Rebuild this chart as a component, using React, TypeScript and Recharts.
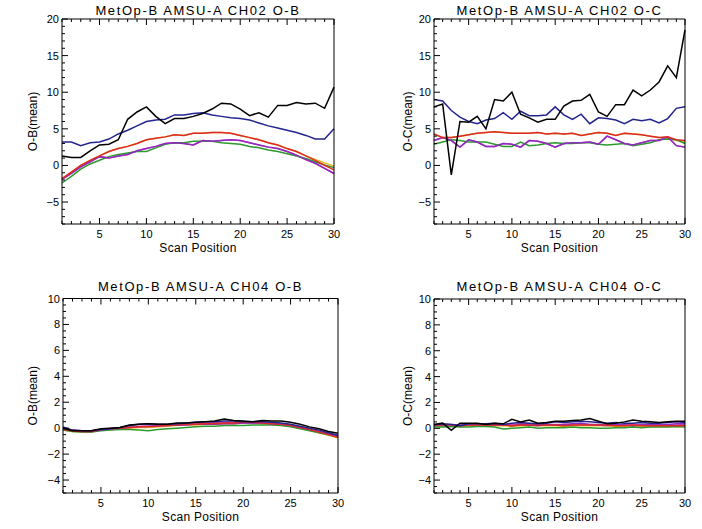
import { Label, Line, LineChart, XAxis, YAxis } from "recharts";

const SCAN_POSITIONS = [
  1, 2, 3, 4, 5, 6, 7, 8, 9, 10, 11, 12, 13, 14, 15, 16, 17, 18, 19, 20, 21,
  22, 23, 24, 25, 26, 27, 28, 29, 30,
];

// CH02 O-B
const CH02_OB_BLACK = [1.3, 1.1, 1.1, 2.0, 2.8, 2.9, 3.5, 6.3, 7.3, 8.0, 6.7, 5.7, 6.4, 6.4, 6.7, 7.1, 7.7, 8.5, 8.4, 7.7, 6.8, 7.2, 6.6, 8.2, 8.2, 8.6, 8.4, 8.5, 7.8, 10.7];
const CH02_OB_BLUE = [3.2, 3.2, 2.7, 3.1, 3.2, 3.6, 4.3, 4.8, 5.4, 6.0, 6.2, 6.3, 6.9, 6.9, 7.1, 7.2, 6.9, 6.7, 6.5, 6.4, 6.2, 5.8, 5.4, 5.1, 4.8, 4.5, 4.1, 3.6, 3.6, 5.0];
const CH02_OB_RED = [-1.8, -0.9, 0.0, 0.7, 1.3, 1.9, 2.3, 2.6, 3.0, 3.5, 3.7, 3.9, 4.2, 4.1, 4.4, 4.4, 4.5, 4.5, 4.4, 4.1, 3.8, 3.5, 3.1, 2.8, 2.3, 1.9, 1.3, 0.7, 0.0, -0.6];
const CH02_OB_GREEN = [-2.4, -1.5, -0.5, 0.2, 0.7, 1.2, 1.5, 1.7, 1.9, 1.9, 2.4, 2.9, 3.1, 3.1, 3.3, 3.3, 3.3, 3.1, 3.0, 2.9, 2.6, 2.4, 2.1, 1.9, 1.6, 1.3, 0.95, 0.5, 0.05, -0.3];
const CH02_OB_PURPLE = [-1.9, -1.1, -0.2, 0.5, 1.2, 1.0, 1.3, 1.5, 2.0, 2.3, 2.6, 3.0, 3.1, 3.0, 2.8, 3.4, 3.3, 3.4, 3.5, 3.4, 3.1, 2.8, 2.5, 2.3, 1.9, 1.4, 0.8, 0.3, -0.4, -1.1];
const CH02_OB_MAGENTA = [-1.9, -1.1, -0.2, 0.5, 1.2, 1.0, 1.3, 1.5, 2.0, 2.3, 2.6, 3.0, 3.1, 3.0, 2.8, 3.4, 3.3, 3.4, 3.5, 3.4, 3.1, 2.8, 2.5, 2.3, 1.9, 1.4, 0.8, 0.3, -0.4, -1.1];
const CH02_OB_YELLOW = [-1.8, -0.9, 0.0, 0.7, 1.3, 1.9, 2.3, 2.6, 3.0, 3.5, 3.7, 3.9, 4.2, 4.1, 4.4, 4.4, 4.5, 4.5, 4.4, 4.1, 3.8, 3.5, 3.1, 2.8, 2.3, 1.9, 1.3, 0.8, 0.35, -0.1];

// CH02 O-C
const CH02_OC_BLACK = [8.0, 8.4, -1.3, 6.0, 5.9, 6.7, 5.0, 9.0, 8.8, 10.0, 7.0, 6.5, 5.9, 6.3, 6.3, 8.1, 8.8, 8.9, 9.7, 7.3, 6.7, 8.3, 8.3, 10.3, 9.5, 10.3, 11.4, 13.6, 12.0, 18.5];
const CH02_OC_BLUE = [9.0, 8.8, 7.5, 6.6, 6.0, 5.7, 6.2, 6.4, 7.2, 6.3, 7.4, 6.8, 6.8, 6.9, 8.0, 6.9, 6.3, 7.0, 5.7, 6.5, 6.4, 6.2, 5.7, 6.3, 6.1, 6.3, 5.8, 6.4, 7.8, 8.0];
const CH02_OC_RED = [4.3, 3.8, 3.8, 4.0, 4.2, 4.4, 4.5, 4.6, 4.5, 4.4, 4.4, 4.4, 4.5, 4.3, 4.4, 4.3, 4.4, 4.1, 4.3, 4.5, 4.4, 4.1, 4.4, 4.3, 4.2, 4.0, 3.8, 3.9, 3.5, 3.4];
const CH02_OC_GREEN = [2.9, 3.2, 3.5, 3.4, 3.2, 3.2, 3.2, 2.9, 2.6, 2.6, 3.2, 2.7, 2.8, 3.0, 3.1, 3.0, 3.0, 3.1, 3.1, 2.9, 2.8, 2.9, 3.0, 2.7, 2.9, 3.1, 3.5, 3.6, 3.5, 3.0];
const CH02_OC_PURPLE = [3.4, 3.8, 3.4, 2.5, 3.5, 3.2, 2.6, 2.6, 3.0, 2.9, 2.5, 3.4, 3.3, 3.0, 2.5, 3.0, 3.1, 3.1, 3.2, 2.9, 4.0, 3.5, 3.0, 2.8, 3.1, 3.4, 3.4, 3.9, 2.7, 2.5];
const CH02_OC_MAGENTA = [3.4, 3.8, 3.4, 2.5, 3.5, 3.2, 2.6, 2.6, 3.0, 2.9, 2.5, 3.4, 3.3, 3.0, 2.5, 3.0, 3.1, 3.1, 3.2, 2.9, 4.0, 3.5, 3.0, 2.8, 3.1, 3.4, 3.4, 3.9, 2.7, 2.5];
const CH02_OC_YELLOW = [4.3, 3.8, 3.8, 4.0, 4.2, 4.4, 4.5, 4.6, 4.5, 4.4, 4.4, 4.4, 4.5, 4.3, 4.4, 4.3, 4.4, 4.1, 4.3, 4.5, 4.4, 4.1, 4.4, 4.3, 4.2, 4.0, 3.8, 3.7, 3.4, 3.3];

// CH04 O-B
const CH04_OB_BLACK = [0.0, -0.2, -0.2, -0.2, -0.05, 0.0, 0.05, 0.25, 0.3, 0.35, 0.3, 0.3, 0.4, 0.4, 0.45, 0.5, 0.55, 0.7, 0.6, 0.55, 0.5, 0.6, 0.55, 0.55, 0.45, 0.3, 0.1, -0.05, -0.25, -0.4];
const CH04_OB_BLUE = [0.1, -0.15, -0.2, -0.2, -0.1, -0.05, 0.05, 0.2, 0.3, 0.35, 0.3, 0.3, 0.35, 0.4, 0.45, 0.5, 0.5, 0.55, 0.55, 0.5, 0.5, 0.5, 0.45, 0.4, 0.3, 0.15, 0.0, -0.15, -0.35, -0.55];
const CH04_OB_RED = [-0.1, -0.2, -0.25, -0.25, -0.1, -0.05, 0.0, 0.05, 0.1, 0.1, 0.15, 0.2, 0.25, 0.3, 0.3, 0.35, 0.35, 0.4, 0.4, 0.45, 0.45, 0.4, 0.35, 0.3, 0.2, 0.05, -0.1, -0.3, -0.5, -0.7];
const CH04_OB_GREEN = [-0.15, -0.25, -0.3, -0.3, -0.2, -0.15, -0.1, -0.1, -0.15, -0.2, -0.1, -0.05, 0.0, 0.05, 0.1, 0.15, 0.15, 0.2, 0.2, 0.2, 0.25, 0.25, 0.25, 0.2, 0.1, -0.05, -0.2, -0.35, -0.5, -0.7];
const CH04_OB_PURPLE = [-0.05, -0.2, -0.25, -0.25, -0.15, -0.05, 0.0, 0.05, 0.1, 0.15, 0.2, 0.2, 0.25, 0.25, 0.3, 0.3, 0.3, 0.35, 0.35, 0.4, 0.4, 0.4, 0.35, 0.3, 0.2, 0.05, -0.1, -0.25, -0.45, -0.6];
const CH04_OB_MAGENTA = [0.0, -0.15, -0.2, -0.2, -0.1, 0.0, 0.05, 0.15, 0.15, 0.15, 0.15, 0.2, 0.25, 0.3, 0.35, 0.4, 0.45, 0.45, 0.45, 0.4, 0.4, 0.4, 0.35, 0.3, 0.2, 0.05, -0.1, -0.25, -0.45, -0.6];
const CH04_OB_YELLOW = [-0.15, -0.25, -0.3, -0.3, -0.15, -0.1, -0.05, 0.0, 0.05, 0.05, 0.1, 0.15, 0.2, 0.25, 0.25, 0.3, 0.3, 0.35, 0.35, 0.4, 0.4, 0.35, 0.3, 0.25, 0.15, 0.0, -0.15, -0.35, -0.55, -0.75];

// CH04 O-C
const CH04_OC_BLACK = [0.3, 0.4, -0.15, 0.4, 0.4, 0.4, 0.3, 0.4, 0.35, 0.7, 0.5, 0.65, 0.4, 0.45, 0.55, 0.55, 0.6, 0.65, 0.75, 0.55, 0.35, 0.4, 0.5, 0.65, 0.55, 0.5, 0.45, 0.5, 0.55, 0.55];
const CH04_OC_BLUE = [0.25, 0.35, 0.3, 0.2, 0.35, 0.35, 0.35, 0.4, 0.3, 0.4, 0.45, 0.4, 0.35, 0.4, 0.5, 0.45, 0.5, 0.55, 0.5, 0.45, 0.4, 0.45, 0.4, 0.4, 0.45, 0.4, 0.4, 0.45, 0.5, 0.45];
const CH04_OC_RED = [0.25, 0.25, 0.25, 0.2, 0.25, 0.25, 0.25, 0.25, 0.25, 0.2, 0.25, 0.25, 0.25, 0.25, 0.25, 0.2, 0.25, 0.25, 0.25, 0.25, 0.25, 0.2, 0.2, 0.25, 0.2, 0.2, 0.2, 0.2, 0.2, 0.2];
const CH04_OC_GREEN = [0.1, 0.1, 0.15, 0.1, 0.1, 0.15, 0.15, 0.1, -0.05, 0.0, 0.05, 0.1, 0.0, 0.05, 0.05, 0.05, 0.1, 0.05, 0.05, 0.0, 0.0, 0.05, 0.05, 0.1, 0.05, 0.1, 0.1, 0.1, 0.15, 0.1];
const CH04_OC_PURPLE = [0.3, 0.3, 0.3, 0.25, 0.3, 0.35, 0.3, 0.25, 0.3, 0.2, 0.3, 0.25, 0.2, 0.3, 0.25, 0.3, 0.35, 0.4, 0.3, 0.3, 0.25, 0.3, 0.25, 0.2, 0.25, 0.3, 0.25, 0.3, 0.35, 0.35];
const CH04_OC_MAGENTA = [0.2, 0.2, 0.2, 0.2, 0.25, 0.3, 0.3, 0.3, 0.3, 0.3, 0.35, 0.35, 0.3, 0.3, 0.3, 0.3, 0.3, 0.3, 0.3, 0.25, 0.2, 0.25, 0.3, 0.3, 0.3, 0.3, 0.3, 0.25, 0.25, 0.3];
const CH04_OC_YELLOW = [0.2, 0.2, 0.2, 0.15, 0.2, 0.2, 0.2, 0.2, 0.2, 0.15, 0.2, 0.2, 0.2, 0.2, 0.2, 0.15, 0.2, 0.2, 0.2, 0.2, 0.2, 0.15, 0.15, 0.2, 0.15, 0.15, 0.15, 0.15, 0.15, 0.15];

const X_MAJOR_STEP = 5;

// drawn bottom to top
const SERIES = [
  { key: "yellow", color: "#e3bd1a" },
  { key: "magenta", color: "#e04aa8" },
  { key: "green", color: "#2c9a2c" },
  { key: "purple", color: "#8c2cc0" },
  { key: "red", color: "#dc2a2a" },
  { key: "blue", color: "#24248f" },
  { key: "black", color: "#000000" },
];

const FONT = "'Liberation Sans', Arial, Helvetica, sans-serif";

function buildRows(s: Record<string, number[]>) {
  return SCAN_POSITIONS.map((pos, i) => {
    const row: Record<string, number> = { pos };
    for (const k of Object.keys(s)) row[k] = s[k][i];
    return row;
  });
}

function range(lo: number, hi: number, step: number) {
  const out: number[] = [];
  for (let v = lo; v <= hi + 1e-9; v += step) out.push(Math.round(v * 100) / 100);
  return out;
}

function isMajor(v: number, step: number) {
  return Math.abs(v / step - Math.round(v / step)) < 1e-6;
}

function fmt(v: number) {
  return v < 0 ? `\u2212${Math.abs(v)}` : `${v}`;
}

function xTick(side: "bottom" | "top") {
  return (props: any) => {
    const { x, y, payload } = props;
    const major = isMajor(payload.value, X_MAJOR_STEP);
    const len = major ? 6 : 3;
    const dir = side === "bottom" ? -1 : 1;
    return (
      <g>
        <line x1={x} y1={y} x2={x} y2={y + dir * len} stroke="#000" strokeWidth={1} />
        {side === "bottom" && major && (
          <text x={x} y={y + 14} textAnchor="middle" fontSize={11} fill="#000" fontFamily={FONT}>
            {fmt(payload.value)}
          </text>
        )}
      </g>
    );
  };
}

function yTick(side: "left" | "right", majorStep: number) {
  return (props: any) => {
    const { x, y, payload } = props;
    const major = isMajor(payload.value, majorStep);
    const len = major ? 6 : 3;
    const dir = side === "left" ? 1 : -1;
    return (
      <g>
        <line x1={x} y1={y} x2={x + dir * len} y2={y} stroke="#000" strokeWidth={1} />
        {side === "left" && major && (
          <text x={x - 3} y={y + 4} textAnchor="end" fontSize={11} fill="#000" fontFamily={FONT}>
            {fmt(payload.value)}
          </text>
        )}
      </g>
    );
  };
}

interface PanelProps {
  title: string;
  yLabel: string;
  rows: Record<string, number>[];
  left: number;
  top: number;
  width: number;
  height: number;
  margin: { top: number; right: number; bottom: number };
  yAxisWidth: number;
  yDomain: [number, number];
  yMinorStep: number;
  yMajorStep: number;
  titleOffset: number;
  yLabelOffset: number;
}

function Panel(p: PanelProps) {
  const yTicks = range(p.yDomain[0], p.yDomain[1], p.yMinorStep);
  return (
    <div style={{ position: "absolute", left: p.left, top: p.top, width: p.width, height: p.height }}>
      <LineChart
        width={p.width}
        height={p.height}
        data={p.rows}
        margin={{ top: p.margin.top - 1, right: p.margin.right - 1, bottom: p.margin.bottom, left: 0 }}
      >
        <XAxis
          dataKey="pos"
          type="number"
          domain={[1, 30]}
          ticks={SCAN_POSITIONS}
          interval={0}
          tickSize={0}
          tickMargin={0}
          tickLine={false}
          tick={xTick("bottom")}
          height={30}
          axisLine={{ stroke: "#000" }}
        >
          <Label
            value="Scan Position"
            position="insideBottom"
            offset={2.5}
            fontSize={12}
            fill="#000"
            fontFamily={FONT}
            style={{ letterSpacing: "0.3px" }}
          />
        </XAxis>
        <XAxis
          xAxisId="top"
          orientation="top"
          dataKey="pos"
          type="number"
          domain={[1, 30]}
          ticks={SCAN_POSITIONS}
          interval={0}
          tickSize={0}
          tickMargin={0}
          tickLine={false}
          tick={xTick("top")}
          height={1}
          axisLine={{ stroke: "#000" }}
        >
          <Label
            value={p.title}
            position="top"
            offset={p.titleOffset - 1}
            fontSize={13}
            fill="#000"
            fontFamily={FONT}
            style={{ letterSpacing: "1.6px" }}
          />
        </XAxis>
        <YAxis
          type="number"
          domain={p.yDomain}
          ticks={yTicks}
          interval={0}
          tickSize={0}
          tickMargin={0}
          tickLine={false}
          tick={yTick("left", p.yMajorStep)}
          width={p.yAxisWidth}
          axisLine={{ stroke: "#000" }}
        >
          <Label
            value={p.yLabel}
            angle={-90}
            position="insideLeft"
            offset={p.yLabelOffset}
            fontSize={12}
            fill="#000"
            fontFamily={FONT}
            style={{ textAnchor: "middle" }}
          />
        </YAxis>
        <YAxis
          yAxisId="right"
          orientation="right"
          type="number"
          domain={p.yDomain}
          ticks={yTicks}
          interval={0}
          tickSize={0}
          tickMargin={0}
          tickLine={false}
          tick={yTick("right", p.yMajorStep)}
          width={1}
          axisLine={{ stroke: "#000" }}
        />
        {SERIES.map((s) => (
          <Line
            key={s.key}
            dataKey={s.key}
            type="linear"
            stroke={s.color}
            strokeWidth={1.5}
            dot={false}
            activeDot={false}
            isAnimationActive={false}
          />
        ))}
      </LineChart>
    </div>
  );
}

const ch02ObRows = buildRows({
  black: CH02_OB_BLACK, blue: CH02_OB_BLUE, red: CH02_OB_RED, green: CH02_OB_GREEN,
  purple: CH02_OB_PURPLE, magenta: CH02_OB_MAGENTA, yellow: CH02_OB_YELLOW,
});
const ch02OcRows = buildRows({
  black: CH02_OC_BLACK, blue: CH02_OC_BLUE, red: CH02_OC_RED, green: CH02_OC_GREEN,
  purple: CH02_OC_PURPLE, magenta: CH02_OC_MAGENTA, yellow: CH02_OC_YELLOW,
});
const ch04ObRows = buildRows({
  black: CH04_OB_BLACK, blue: CH04_OB_BLUE, red: CH04_OB_RED, green: CH04_OB_GREEN,
  purple: CH04_OB_PURPLE, magenta: CH04_OB_MAGENTA, yellow: CH04_OB_YELLOW,
});
const ch04OcRows = buildRows({
  black: CH04_OC_BLACK, blue: CH04_OC_BLUE, red: CH04_OC_RED, green: CH04_OC_GREEN,
  purple: CH04_OC_PURPLE, magenta: CH04_OC_MAGENTA, yellow: CH04_OC_YELLOW,
});

export default function App() {
  return (
    <div style={{ position: "relative", width: 702, height: 529, background: "#fff", fontFamily: FONT }}>
      <style>{"body{margin:0;background:#fff}"}</style>
      <Panel
        title="MetOp-B AMSU-A CH02 O-B"
        yLabel="O-B(mean)"
        rows={ch02ObRows}
        left={0}
        top={0}
        width={351}
        height={262}
        margin={{ top: 19, right: 17, bottom: 8 }}
        yAxisWidth={62}
        yDomain={[-8, 20]}
        yMinorStep={1}
        yMajorStep={5}
        titleOffset={4}
        yLabelOffset={33}
      />
      <Panel
        title="MetOp-B AMSU-A CH02 O-C"
        yLabel="O-C(mean)"
        rows={ch02OcRows}
        left={351}
        top={0}
        width={351}
        height={262}
        margin={{ top: 19, right: 17, bottom: 8 }}
        yAxisWidth={83}
        yDomain={[-8, 20]}
        yMinorStep={1}
        yMajorStep={5}
        titleOffset={4}
        yLabelOffset={57}
      />
      <Panel
        title="MetOp-B AMSU-A CH04 O-B"
        yLabel="O-B(mean)"
        rows={ch04ObRows}
        left={0}
        top={262}
        width={351}
        height={267}
        margin={{ top: 36.5, right: 13, bottom: 6 }}
        yAxisWidth={63}
        yDomain={[-5, 10]}
        yMinorStep={0.5}
        yMajorStep={2}
        titleOffset={7.5}
        yLabelOffset={33}
      />
      <Panel
        title="MetOp-B AMSU-A CH04 O-C"
        yLabel="O-C(mean)"
        rows={ch04OcRows}
        left={351}
        top={262}
        width={351}
        height={267}
        margin={{ top: 37, right: 17, bottom: 6 }}
        yAxisWidth={83}
        yDomain={[-5, 10]}
        yMinorStep={0.5}
        yMajorStep={2}
        titleOffset={8}
        yLabelOffset={57}
      />
    </div>
  );
}
